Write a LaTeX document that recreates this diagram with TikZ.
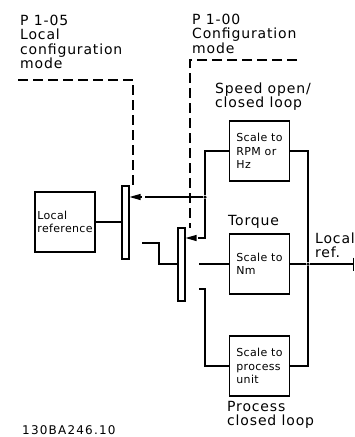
\documentclass[tikz,border=0pt]{standalone}
\usepackage{fontspec}
\setmainfont{DejaVu Sans}
\newfontfamily\lblfont[LetterSpace=6]{DejaVu Sans}
\newfontfamily\boxfont[LetterSpace=3]{DejaVu Sans}
\newfontfamily\idfont[LetterSpace=10]{DejaVu Sans}
\usetikzlibrary{arrows.meta,positioning}
\tikzset{
    blk/.style={draw,line width=1.1pt,minimum width=60pt,minimum height=60pt,inner sep=2pt,align=left,font=\boxfont\fontsize{11}{13.5}\selectfont},
    swbar/.style={draw,line width=1.1pt,minimum width=7pt,minimum height=73pt,inner sep=0pt},
    lbl/.style={anchor=base west,align=left,inner sep=0pt,font=\lblfont\fontsize{14}{14.5}\selectfont},
    ctl/.style={line width=1.1pt,dash pattern=on 10pt off 5pt},
    wire/.style={line width=1.2pt},
    tri/.style={line width=1.2pt,-{Triangle[length=11pt,width=6pt]}},
    dot/.style={circle,fill,inner sep=0pt,minimum size=3.5pt},
}
\begin{document}
\begin{tikzpicture}[x=1pt,y=-1pt]
            \useasboundingbox (0,0) rectangle (355,437);
            \node[lbl] (cfg05) at (20,68.5) {P 1-05\\Local\\configuration\\mode};
            \node[lbl] (cfg00) at (192,53) {P 1-00\\Configuration\\mode};
            \node[lbl] (speedlbl) at (215,107.5) {Speed open/\\closed loop};
            \node[lbl] (torquelbl) at (228,225) {Torque};
            \node[lbl] (locallbl) at (315,257.5) {Local\\ref.};
            \node[lbl] (proclbl) at (227,425.5) {Process\\closed loop};
            \node[anchor=base west,inner sep=0pt,font=\idfont\fontsize{12}{13}\selectfont] (docid) at (22,434) {130BA246.10};
            \node[blk] (locref) at (65,222) {Local\\reference};
            \node[swbar] (sw1) at (125.5,222.5) {};
            \node[swbar] (sw2) at (181.5,264.5) {};
            \node[blk] (rpm) at (259.5,151) {Scale to\\RPM or\\Hz};
            \node[blk] (nm) at (259.5,264) {Scale to\\Nm};
            \node[blk] (proc) at (259.5,366) {Scale to\\process\\unit};
            \node[dot] (j1) at (205,197) {};
            \node[dot] (j2) at (308,264) {};
            \coordinate (d1) at (18,80);
            \coordinate (d1e) at (133,186);
            \coordinate (d2) at (297,60);
            \coordinate (d2e) at (190,228);
            \coordinate (a1) at (142,197);
            \coordinate (a2) at (195,238);
            \coordinate (o1) at (142,243);
            \coordinate (o2) at (199,264);
            \coordinate (o3) at (199,289);
            \coordinate (out) at (354,264);
            \draw[ctl] (d1) -| (d1e);
            \draw[ctl] (d2) -| (d2e);
            \draw[wire] (locref.east) -- (locref.east -| sw1.west);
            \draw[tri] (a1) -- (a1 -| sw1.east);
            \draw[wire] ([xshift=3pt]a1) -- (j1);
            \draw[wire] (j1) |- (rpm.west);
            \draw[wire] (j1) |- ([xshift=3pt]a2);
            \draw[tri] (a2) -- (a2 -| sw2.east);
            \draw[wire] (o1) -- ++(17,0) |- (sw2.west |- nm.west);
            \draw[wire] (o2) -- (nm.west);
            \draw[wire] (o3) -- ++(6,0) |- (proc.west);
            \draw[wire] (rpm.east) -| (j2) |- (proc.east);
            \draw[wire] (nm.east) -- (j2);
            \draw[wire,-{Bar[width=13pt,line width=1.4pt]}] (j2) -- (out);
\end{tikzpicture}
\end{document}
